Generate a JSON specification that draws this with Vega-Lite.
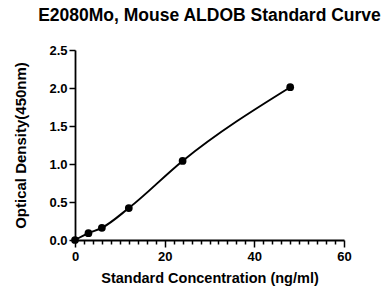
{
  "$schema": "https://vega.github.io/schema/vega-lite/v6.json",
  "width": 269,
  "height": 190,
  "autosize": {"type": "none"},
  "padding": {"left": 75, "top": 50, "right": 38, "bottom": 49},
  "background": "white",
  "title": {
    "text": "E2080Mo, Mouse ALDOB Standard Curve",
    "font": "Liberation Sans",
    "fontSize": 17.5,
    "fontWeight": "bold",
    "color": "black",
    "anchor": "middle",
    "offset": 20
  },
  "data": {
    "values": [
      {"conc": 0, "od": 0.0},
      {"conc": 3, "od": 0.09},
      {"conc": 6, "od": 0.16},
      {"conc": 12, "od": 0.42},
      {"conc": 24, "od": 1.04},
      {"conc": 48, "od": 2.01}
    ]
  },
  "config": {
    "view": {"stroke": null},
    "axis": {
      "labelFont": "Liberation Sans",
      "labelFontSize": 13,
      "labelFontWeight": "bold",
      "labelColor": "black",
      "labelFlush": false,
      "titleFont": "Liberation Sans",
      "titleFontSize": 14.5,
      "titleFontWeight": "bold",
      "titleColor": "black",
      "domainColor": "black",
      "domainWidth": 1.8,
      "tickColor": "black",
      "tickWidth": 1.5,
      "grid": false
    }
  },
  "encoding": {
    "x": {
      "field": "conc",
      "type": "quantitative",
      "scale": {"domain": [0, 60], "nice": false},
      "axis": {
        "title": "Standard Concentration (ng/ml)",
        "values": [0,2,4,6,8,10,12,14,16,18,20,22,24,26,28,30,32,34,36,38,40,42,44,46,48,50,52,54,56,58,60],
        "labelExpr": "datum.value % 20 === 0 ? datum.label : ''",
        "labelOverlap": false,
        "tickSize": {"condition": {"test": "datum.value % 20 === 0", "value": 7}, "value": 4},
        "labelPadding": 3,
        "titlePadding": 8
      }
    },
    "y": {
      "field": "od",
      "type": "quantitative",
      "scale": {"domain": [0, 2.5], "nice": false},
      "axis": {
        "title": "Optical Density(450nm)",
        "titleFontSize": 15,
        "values": [0, 0.5, 1.0, 1.5, 2.0, 2.5],
        "format": ".1f",
        "labelOverlap": false,
        "tickSize": 6,
        "labelPadding": 2,
        "titlePadding": 20
      }
    }
  },
  "layer": [
    {
      "mark": {"type": "line", "interpolate": "monotone", "color": "black", "strokeWidth": 2}
    },
    {
      "mark": {"type": "circle", "color": "black", "opacity": 1, "size": 60}
    }
  ]
}
